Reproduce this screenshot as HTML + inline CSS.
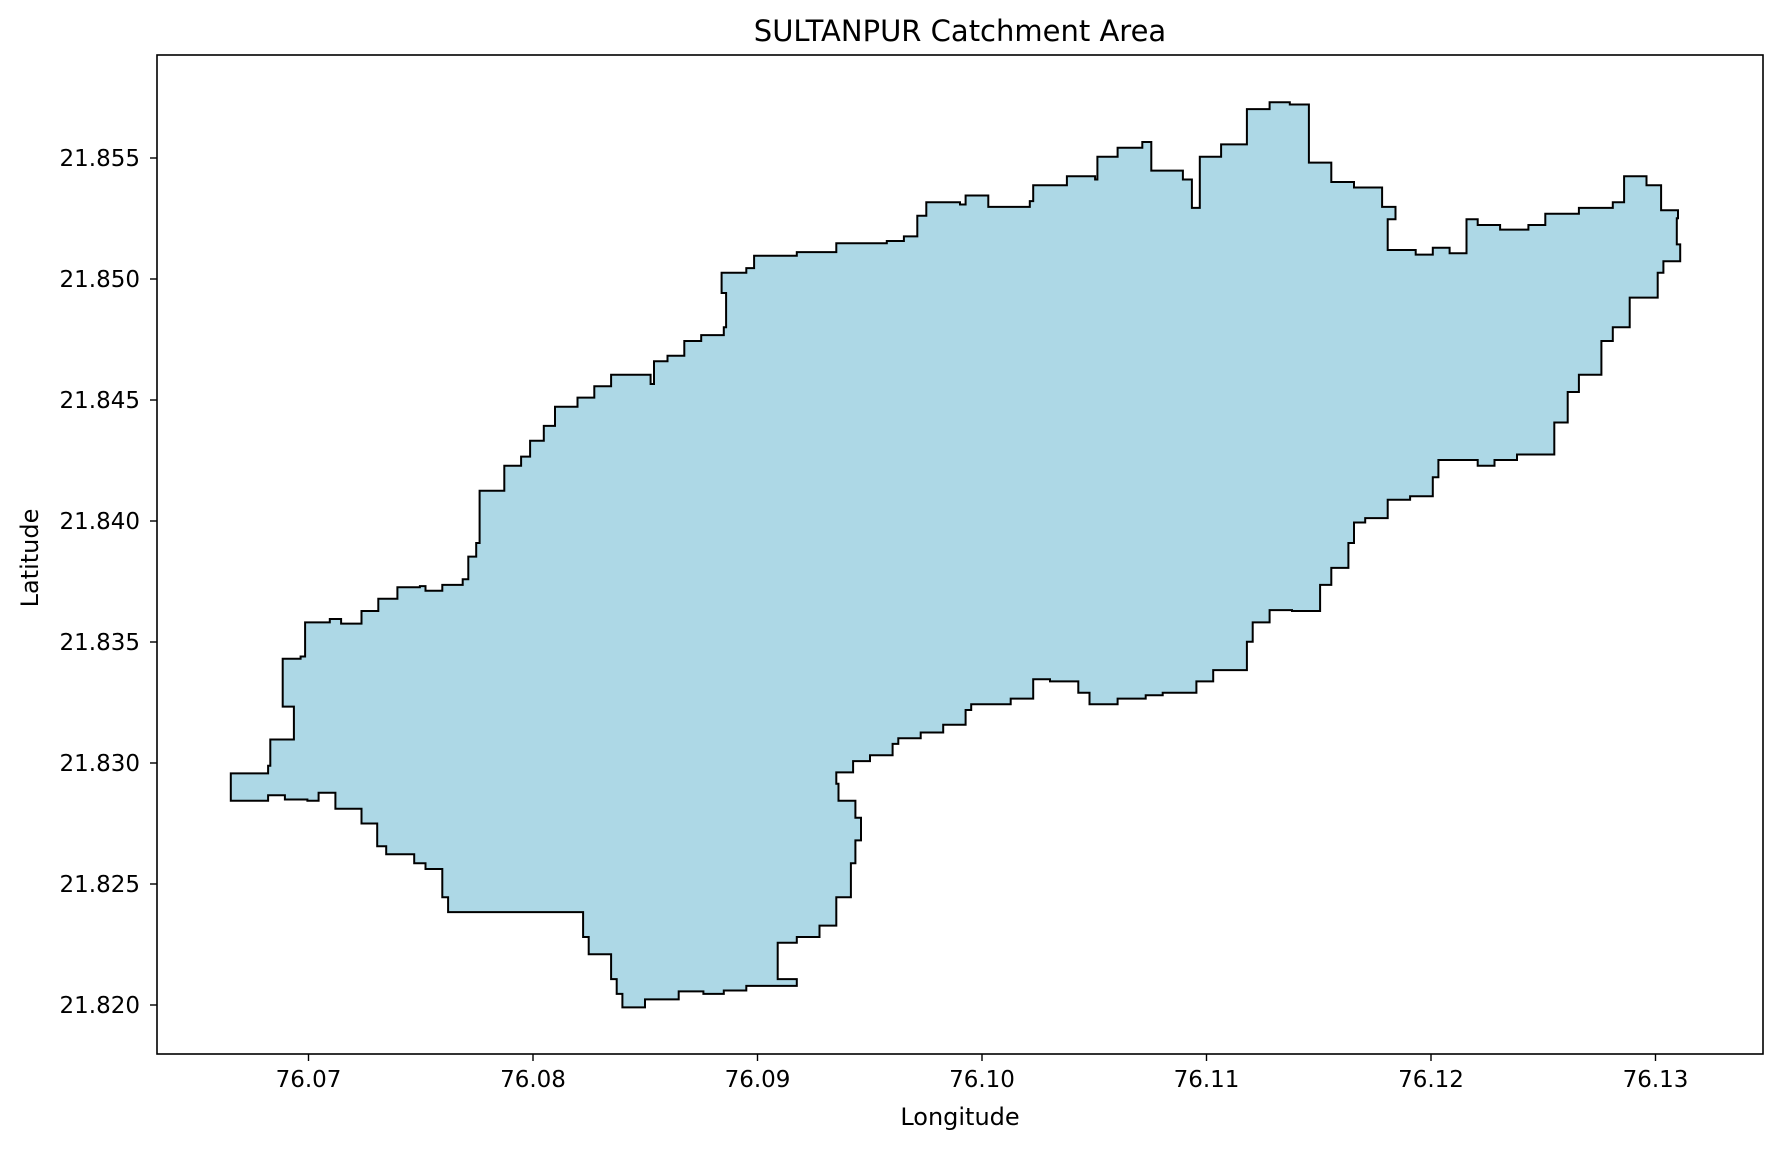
<!DOCTYPE html>
<html><head><meta charset="utf-8"><style>
body{margin:0;background:#fff;}
svg text{font-family:"DejaVu Sans","Liberation Sans",sans-serif;fill:#000;}
</style></head><body>
<svg id="chart" width="1781" height="1147" xmlns="http://www.w3.org/2000/svg">
<rect x="0" y="0" width="1781" height="1147" fill="#fff"/>
<g id="plot"></g>
<text x="960" y="41" font-size="29" text-anchor="middle">SULTANPUR Catchment Area</text>
<text x="960" y="1125" font-size="24" text-anchor="middle">Longitude</text>
<text x="0" y="0" font-size="24" text-anchor="middle" transform="translate(38,558) rotate(-90)">Latitude</text>
</svg>
<script>
const xTicks=[76.07,76.08,76.09,76.10,76.11,76.12,76.13];
const xTickLabels=["76.07","76.08","76.09","76.10","76.11","76.12","76.13"];
const yTicks=[21.820,21.825,21.830,21.835,21.840,21.845,21.850,21.855];
const yTickLabels=["21.820","21.825","21.830","21.835","21.840","21.845","21.850","21.855"];
const lons=[76.06654,76.06820,76.06820,76.06830,76.06935,76.06935,76.06885,76.06885,76.06965,76.06985,76.07095,76.07145,76.07236,76.07311,76.07396,76.07496,76.07521,76.07596,76.07687,76.07712,76.07747,76.07762,76.07872,76.07872,76.07947,76.07987,76.08048,76.08098,76.08198,76.08273,76.08348,76.08499,76.08524,76.08539,76.08599,76.08674,76.08749,76.08850,76.08860,76.08840,76.08950,76.08985,76.09175,76.09351,76.09576,76.09652,76.09712,76.09752,76.09902,76.09927,76.10028,76.10213,76.10228,76.10378,76.10504,76.10514,76.10604,76.10714,76.10754,76.10895,76.10935,76.10970,76.11065,76.11180,76.11281,76.11371,76.11456,76.11556,76.11657,76.11782,76.11842,76.11807,76.11932,76.12008,76.12083,76.12158,76.12208,76.12308,76.12434,76.12509,76.12659,76.12810,76.12860,76.12960,76.13025,76.13100,76.13095,76.13110,76.13035,76.13010,76.12885,76.12810,76.12759,76.12659,76.12609,76.12549,76.12383,76.12283,76.12208,76.12108,76.12033,76.12008,76.11907,76.11807,76.11707,76.11657,76.11632,76.11556,76.11506,76.11381,76.11281,76.11206,76.11180,76.11030,76.10955,76.10805,76.10729,76.10604,76.10479,76.10429,76.10303,76.10228,76.10128,76.09952,76.09927,76.09827,76.09727,76.09627,76.09602,76.09501,76.09426,76.09351,76.09361,76.09436,76.09461,76.09436,76.09416,76.09351,76.09276,76.09175,76.09090,76.09090,76.09175,76.08950,76.08850,76.08759,76.08649,76.08499,76.08398,76.08373,76.08348,76.08248,76.08223,76.07672,76.07622,76.07596,76.07521,76.07471,76.07346,76.07306,76.07236,76.07120,76.07045,76.06995,76.06895,76.06820,76.06654];
const lats=[21.82957,21.82957,21.82989,21.83097,21.83097,21.83233,21.83233,21.83431,21.83440,21.83581,21.83595,21.83576,21.83628,21.83679,21.83726,21.83731,21.83712,21.83736,21.83759,21.83853,21.83909,21.84125,21.84134,21.84228,21.84266,21.84332,21.84393,21.84472,21.84510,21.84557,21.84604,21.84604,21.84566,21.84660,21.84683,21.84744,21.84768,21.84801,21.84942,21.85026,21.85045,21.85096,21.85111,21.85148,21.85157,21.85176,21.85261,21.85317,21.85308,21.85345,21.85298,21.85322,21.85387,21.85425,21.85411,21.85505,21.85542,21.85566,21.85448,21.85411,21.85294,21.85505,21.85556,21.85702,21.85730,21.85721,21.85481,21.85401,21.85378,21.85298,21.85247,21.85120,21.85101,21.85129,21.85106,21.85247,21.85223,21.85204,21.85223,21.85270,21.85294,21.85317,21.85425,21.85387,21.85284,21.85251,21.85143,21.85073,21.85026,21.84923,21.84801,21.84744,21.84604,21.84533,21.84407,21.84275,21.84252,21.84228,21.84252,21.84252,21.84181,21.84102,21.84088,21.84012,21.83994,21.83909,21.83806,21.83736,21.83628,21.83632,21.83581,21.83501,21.83384,21.83337,21.83290,21.83280,21.83266,21.83243,21.83290,21.83337,21.83346,21.83266,21.83243,21.83219,21.83158,21.83126,21.83102,21.83079,21.83032,21.83008,21.82961,21.82914,21.82844,21.82774,21.82680,21.82586,21.82445,21.82328,21.82281,21.82257,21.82201,21.82107,21.82079,21.82060,21.82046,21.82056,21.82023,21.81990,21.82046,21.82107,21.82210,21.82281,21.82384,21.82384,21.82445,21.82562,21.82586,21.82623,21.82656,21.82750,21.82811,21.82877,21.82844,21.82849,21.82867,21.82844,21.82844];

const L=157,R=1763,T=55,B=1054;
function xs(v){return 308.5+(v-76.07)*22450;}
function ys(v){return 158+(21.855-v)*24200;}
const NS="http://www.w3.org/2000/svg";
const g=document.getElementById('plot');
function mk(tag,attrs){const e=document.createElementNS(NS,tag);for(const k in attrs)e.setAttribute(k,attrs[k]);g.appendChild(e);return e;}

let d="M"+xs(lons[0]).toFixed(1)+","+ys(lats[0]).toFixed(1);
for(let i=1;i<lons.length;i++){
  d+=" H"+xs(lons[i]).toFixed(1)+" V"+ys(lats[i]).toFixed(1);
}
d+=" Z";
const poly=mk('path',{d:d,fill:'#add8e6',stroke:'#000','stroke-width':2,'stroke-linejoin':'miter'});



const frame=mk('rect',{x:L,y:T,width:R-L,height:B-T,fill:'none',stroke:'#000','stroke-width':1.6});



xTicks.forEach((v,i)=>{
  const x=xs(v);
  const t=mk('line',{x1:x,x2:x,y1:B,y2:B+7,stroke:'#000','stroke-width':1.4});
  
  
  const lb=mk('text',{x:x,y:B+33,'font-size':23,'text-anchor':'middle'});
  lb.textContent=xTickLabels[i];
  
  
});
yTicks.forEach((v,i)=>{
  const y=ys(v);
  const t=mk('line',{x1:L-7,x2:L,y1:y,y2:y,stroke:'#000','stroke-width':1.4});
  
  
  const lb=mk('text',{x:L-17,y:y+8,'font-size':23,'text-anchor':'end'});
  lb.textContent=yTickLabels[i];
  
  
});
</script>
</body></html>
